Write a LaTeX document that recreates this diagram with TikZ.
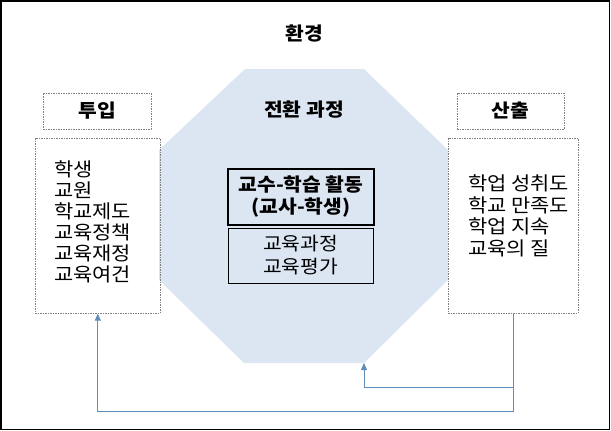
\documentclass[tikz,border=0pt]{standalone}
\usepackage{fontspec}
\setmainfont{Noto Sans CJK KR}[FakeStretch=1.1]
\usetikzlibrary{arrows.meta,calc}
\definecolor{octfill}{HTML}{DCE6F2}
\definecolor{arr}{HTML}{5F8DB8}
\definecolor{dgray}{HTML}{808080}
\begin{document}
\begin{tikzpicture}[x=1pt,y=-1pt,
  dbox/.style={draw=dgray, dash pattern=on 1.5pt off 1pt, line width=0.6pt, inner sep=0pt},
  lbl/.style={font=\fontsize{18.5}{22}\selectfont\bfseries, inner sep=0pt},
  body/.style={font=\fontsize{19}{21}\selectfont, align=left, inner sep=0pt},
  cbox/.style={draw=black, align=center, inner sep=0pt},
  conn/.style={draw=arr, line width=0.8pt},
  tip/.style={-{Triangle[length=7pt,width=6pt]}}]
\useasboundingbox (0,0) rectangle (611,431);
\draw[line width=1.5pt] (1,1) rectangle (609.5,429.5);
% octagon (transformation process)
\fill[octfill] (245,69) -- (364,69) -- (448,150) -- (448,280) -- (364,363) -- (244,363) -- (159,280) -- (159,150) -- cycle;
\coordinate (octbot) at (364,363);
% titles
\node[lbl] (env) at (304,33) {환경};
\node[lbl] (proc) at (304,110) {전환 과정};
% input / output labels
\node[dbox, minimum width=108pt, minimum height=36pt] (inlbl) at (97,111) {};
\node[lbl] (inlbltext) at (inlbl.center) {투입};
\node[dbox, minimum width=107pt, minimum height=36pt] (outlbl) at (510.5,111) {};
\node[lbl] (outlbltext) at (outlbl.center) {산출};
% content boxes
\node[dbox, minimum width=125pt, minimum height=175pt, anchor=north west] (inbox) at (35,138) {};
\node[dbox, minimum width=130pt, minimum height=175pt, anchor=north west] (outbox) at (448,138) {};
\node[body, anchor=north west] (intext) at (54,161) {학생\\교원\\학교제도\\교육정책\\교육재정\\교육여건};
\node[body, font=\fontsize{19}{21.5}\selectfont, anchor=north west] (outtext) at (468,175) {학업 성취도\\학교 만족도\\학업 지속\\교육의 질};
% center boxes
\node[cbox, line width=1.6pt, minimum width=146pt, minimum height=56pt, font=\fontsize{18.5}{22}\selectfont\bfseries] (tl) at (301,197) {교수-학습 활동\\(교사-학생)};
\node[cbox, line width=0.8pt, minimum width=145pt, minimum height=55pt, font=\fontsize{18.5}{23}\selectfont] (cur) at (300.5,255.5) {교육과정\\교육평가};
% feedback connectors
\coordinate (br) at ($(outbox.south)+(0,74)$);
\coordinate (bl) at ($(outbox.south)+(0,98)$);
\draw[conn, tip] (outbox.south) -- (bl) -| (inbox.south);
\draw[conn, tip] (br) -| (octbot);
\end{tikzpicture}
\end{document}
